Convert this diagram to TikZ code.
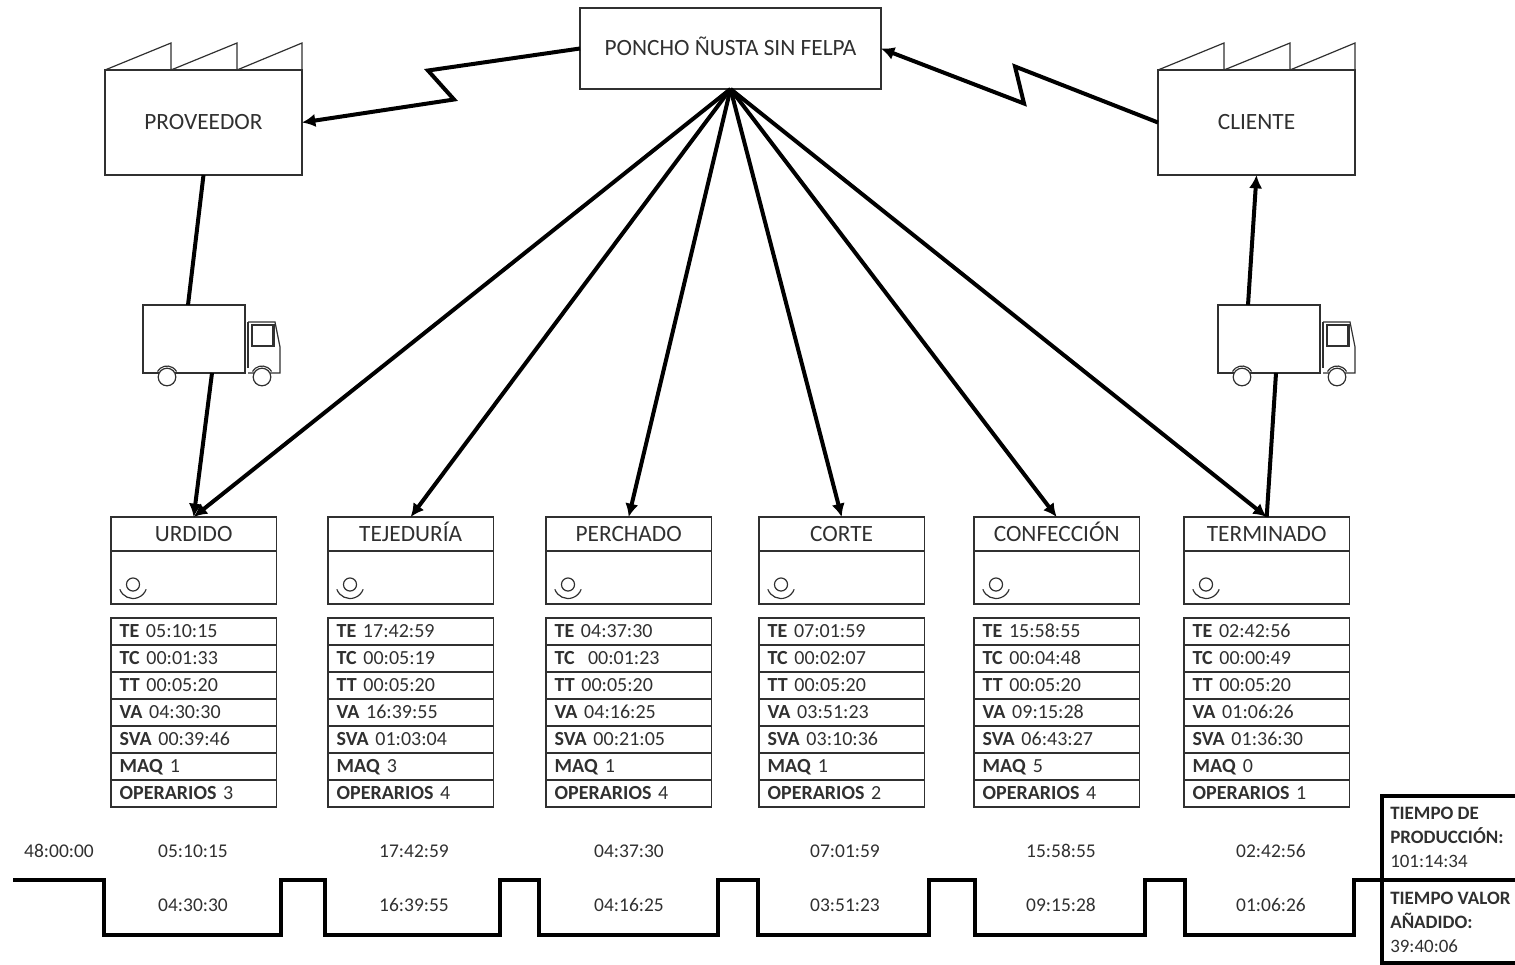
\documentclass[tikz,border=0pt]{standalone}
\usepackage{fontspec}
\setmainfont{Carlito}
\usetikzlibrary{arrows.meta,calc}
\definecolor{tinta}{HTML}{303030}
\tikzset{
  caja/.style={draw=tinta,line width=1pt,rectangle,inner sep=0pt,outer sep=0pt,text=tinta,text height=12.5pt,text depth=1.5pt,font=\fontsize{17.5}{20}\selectfont},
  fila/.style={caja,minimum width=124pt,minimum height=20.25pt,text width=111pt,align=left,text height=11.5pt,text depth=2.5pt,font=\fontsize{15}{18}\selectfont},
  nyil/.style={line width=3pt,-{Latex[length=10pt,width=10pt]}},
  lin/.style={line width=3pt},
  fina/.style={draw=tinta,line width=0.9pt},
  tiempo/.style={text=tinta,inner sep=0pt,text height=10pt,text depth=1pt,font=\fontsize{14.6}{16}\selectfont},
  resumen/.style={anchor=north west,text=tinta,inner sep=0pt,align=left,font=\fontsize{14.2}{18}\selectfont},
}
\begin{document}
\begin{tikzpicture}[x=0.75pt,y=-0.75pt]
  \useasboundingbox (0,0) rectangle (1515,964);
  % cajas de arriba
  \node[caja,minimum width=225.75pt,minimum height=60.75pt] (poncho) at (730.5,48.5) {PONCHO ÑUSTA SIN FELPA};
  \foreach \fab/\x/\txt in {prov/105/PROVEEDOR, cli/1158/CLIENTE} {
    \node[caja,minimum width=147.75pt,minimum height=78.75pt,anchor=north west] (\fab) at (\x,70) {\txt};
    \draw[fina,line join=miter] (\fab.north west) -- ++(66,-27) -- ++(0,27) -- ++(66,-27) -- ++(0,27) -- ++(65,-27) -- (\fab.north east);
  }
  % camiones
  \foreach \cam/\x in {camA/143, camB/1218} {
    \node[caja,fina,minimum width=76.5pt,minimum height=51pt,anchor=north west] (\cam) at (\x,305) {};
    \draw[fina] ($(\cam.north east)+(3,17)$) -- ++(27,0) -- ++(5,25) -- ++(0,26) -- ++(-32,0);
    \draw[fina] ($(\cam.north east)+(7,20)$) rectangle ++(22,21);
    \draw[fina,line width=1.6pt] ($(\cam.north east)+(28,20)$) -- ++(0,21);
    \draw[fina,line width=1.5pt] ($(\cam.north east)+(3,17)$) -- ++(0,46);
    \foreach \r in {24,119} {
      \draw[fina,fill=white] ($(\cam.south west)+(\r,4)$) circle (6.6pt);
      \draw[fina] ($(\cam.south west)+(\r,4)+(-150:11)$) arc[start angle=-150,end angle=-30,radius=11];
    }
  }
  % procesos
  \foreach \pro/\x/\txt/\te/\tc/\tat/\va/\sva/\maq/\op in {
    urd/111/URDIDO/05:10:15/00:01:33/00:05:20/04:30:30/00:39:46/1/3,
    tej/328/TEJEDURÍA/17:42:59/00:05:19/00:05:20/16:39:55/01:03:04/3/4,
    per/546/PERCHADO/04:37:30/~00:01:23/00:05:20/04:16:25/00:21:05/1/4,
    cor/759/CORTE/07:01:59/00:02:07/00:05:20/03:51:23/03:10:36/1/2,
    con/974/CONFECCIÓN/15:58:55/00:04:48/00:05:20/09:15:28/06:43:27/5/4,
    ter/1184/TERMINADO/02:42:56/00:00:49/00:05:20/01:06:26/01:36:30/0/1} {
    \node[caja,minimum width=124pt,minimum height=25.5pt,anchor=north west] (\pro) at (\x,517) {\txt};
    \node[caja,minimum width=124pt,minimum height=39.75pt,anchor=north] (\pro-ops) at (\pro.south) {};
    \draw[fina] ($(\pro-ops.west)+(22,7)$) circle (4.9pt);
    \draw[fina] ($(\pro-ops.west)+(22,7)+(160:14)$) arc[start angle=160,end angle=20,radius=14];
    \node[fila,anchor=north west] (\pro-a) at (\x,618) {\textbf{TE} \te};
    \node[fila,anchor=north] (\pro-b) at (\pro-a.south) {\textbf{TC} \tc};
    \node[fila,anchor=north] (\pro-c) at (\pro-b.south) {\textbf{TT} \tat};
    \node[fila,anchor=north] (\pro-d) at (\pro-c.south) {\textbf{VA} \va};
    \node[fila,anchor=north] (\pro-e) at (\pro-d.south) {\textbf{SVA} \sva};
    \node[fila,anchor=north] (\pro-f) at (\pro-e.south) {\textbf{MAQ} \maq};
    \node[fila,anchor=north] (\pro-g) at (\pro-f.south) {\textbf{OPERARIOS} \op};
    \draw[nyil] (poncho.south) -- (\pro.north);
  }
  % flujo de informacion
  \draw[nyil] (poncho.west) -- ++(-152,22) -- ++(26,29) -- (prov.east);
  \draw[nyil] (cli.west) -- ++(-143,-56) -- ++(9,37) -- (poncho.east);
  % transporte
  \draw[lin] (prov.south) -- ($(camA.north west)+(45,0)$);
  \draw[nyil] ($(camA.south west)+(69,0)$) -- (urd.north);
  \draw[lin] (ter.north) -- ($(camB.south west)+(58,0)$);
  \draw[nyil] ($(camB.north west)+(30,0)$) -- (cli.south);
  % linea de tiempo
  \coordinate (ini) at (13,880);
  \coordinate (fin) at (1382,880);
  \draw[lin,line join=miter] (ini) -- (104,880) -- (104,935) -- (281,935) -- (281,880) -- (325,880) -- (325,935) -- (500,935) -- (500,880) -- (539,880) -- (539,935) -- (718,935) -- (718,880) -- (758,880) -- (758,935) -- (929,935) -- (929,880) -- (975,880) -- (975,935) -- (1145,935) -- (1145,880) -- (1185,880) -- (1185,935) -- (1354,935) -- (1354,880) -- (fin);
  \node[tiempo] (t0) at (59,851) {48:00:00};
  \foreach \n/\x/\a/\b in {1/193/05:10:15/04:30:30, 2/414/17:42:59/16:39:55, 3/629/04:37:30/04:16:25, 4/845/07:01:59/03:51:23, 5/1061/15:58:55/09:15:28, 6/1271/02:42:56/01:06:26} {
    \node[tiempo] (arr\n) at (\x,851) {\a};
    \node[tiempo] (aba\n) at (\x,905) {\b};
  }
  % totales
  \draw[lin,line join=miter] (1515,796) -- (1382,796) -- (1382,963) -- (1515,963);
  \draw[lin] (fin) -- (1515,880);
  \node[resumen] (prod) at (1390,807) {\textbf{TIEMPO DE}\\\textbf{PRODUCCIÓN:}\\101:14:34};
  \node[resumen] (vaa) at (1390,892) {\textbf{TIEMPO VALOR}\\\textbf{AÑADIDO:}\\39:40:06};
\end{tikzpicture}
\end{document}
